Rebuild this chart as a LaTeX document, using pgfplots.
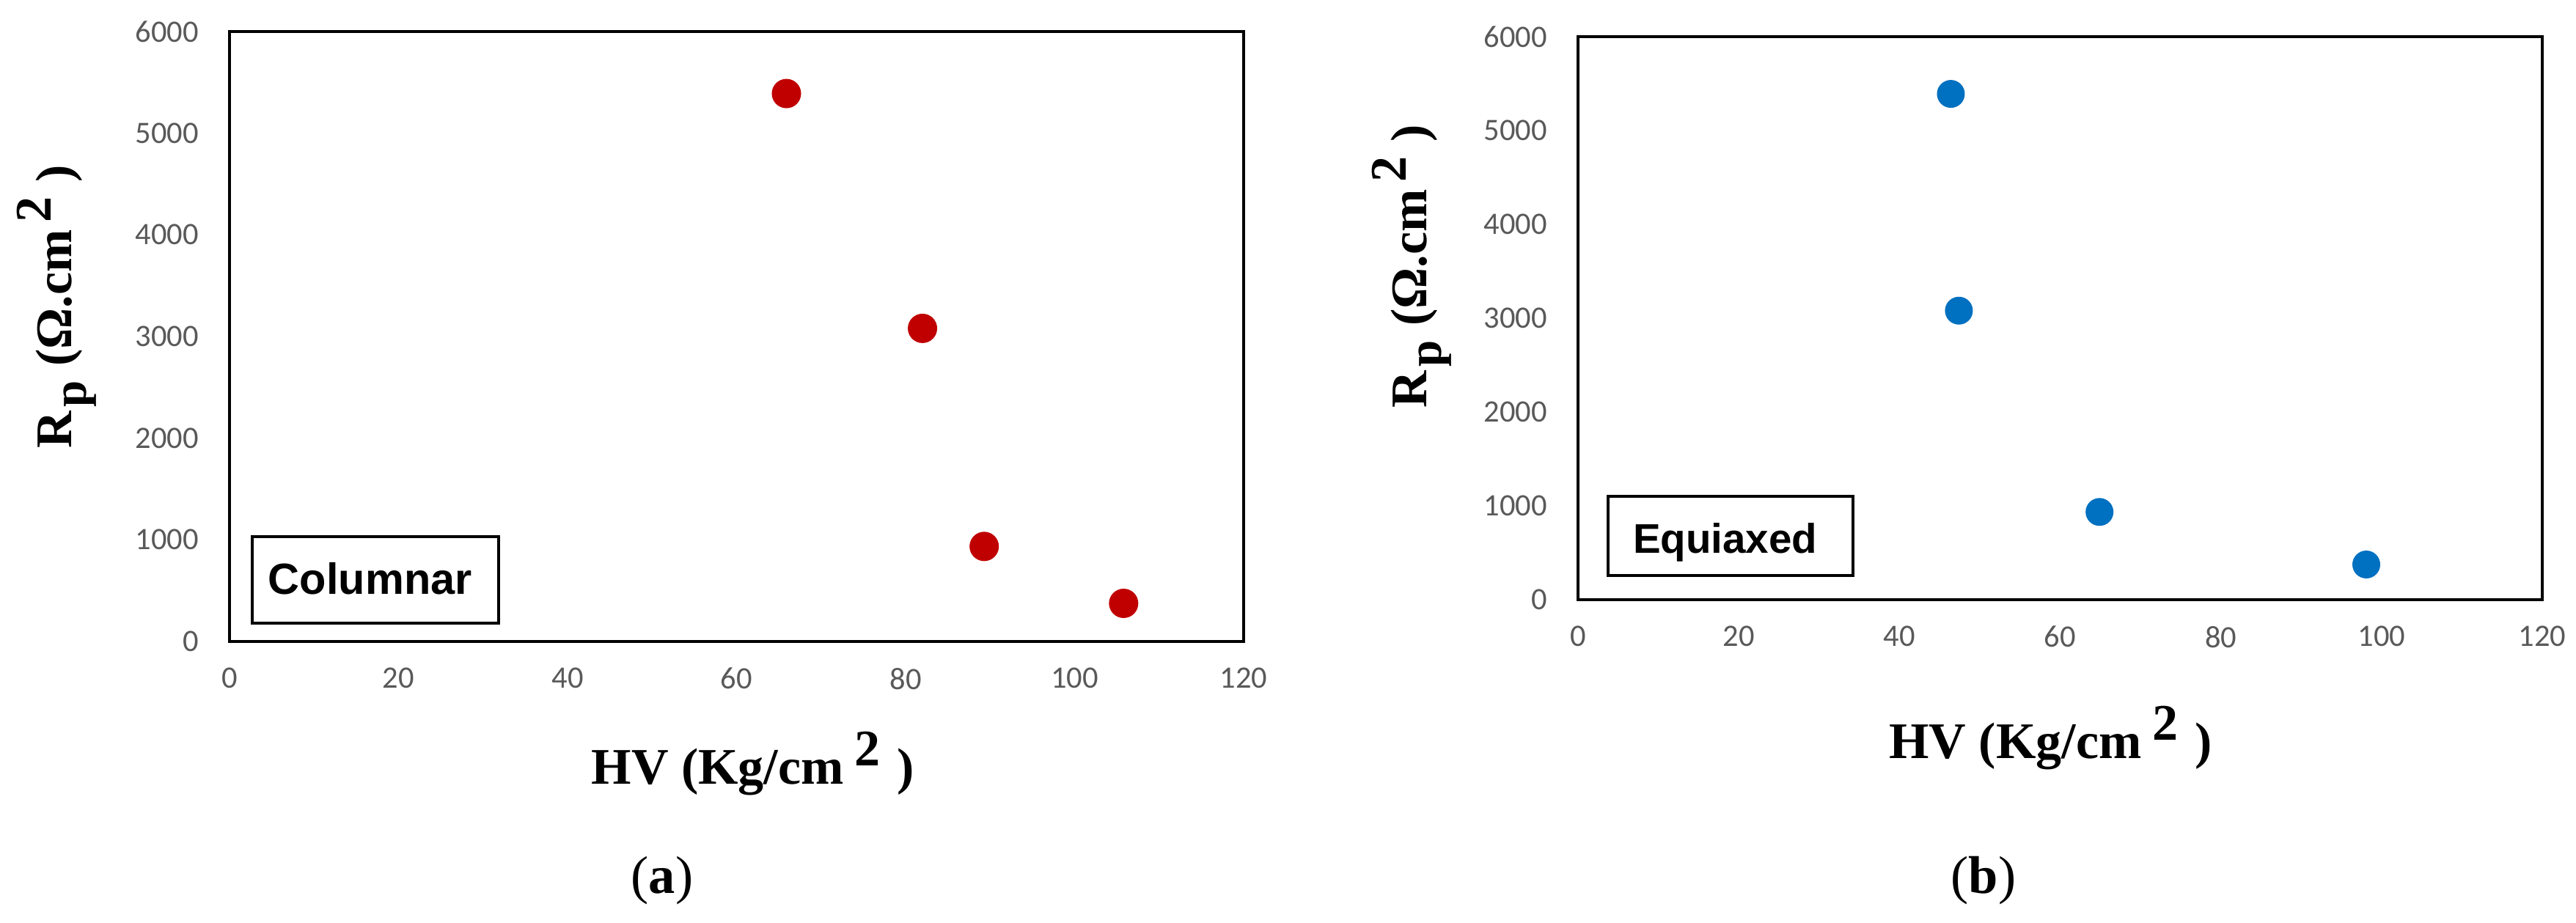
\documentclass[border=0pt]{standalone}
\usepackage{pgfplots}
\pgfplotsset{compat=1.18}
\usepackage{fontspec}
\setmainfont{Liberation Serif}
\newfontfamily\carlito{Carlito}
\newfontfamily\arialf{Liberation Sans}
\definecolor{exred}{RGB}{192,0,0}
\definecolor{exblue}{RGB}{0,112,192}
\definecolor{tickgray}{RGB}{89,89,89}
\pgfplotsset{
  myaxis/.style={
    scale only axis, anchor=south west,
    xmin=0, xmax=120, ymin=0, ymax=6000,
    xtick={0,20,...,120}, ytick={0,1000,...,6000},
    major tick length=0pt,
    axis line style={line width=0.8pt},
    /pgf/number format/1000 sep={},
    /pgf/number format/assume math mode=true,
    tick label style={font=\carlito\fontsize{8.5}{10}\selectfont, text=tickgray, inner sep=0pt},
    yticklabel style={anchor=east, xshift=-8.2pt},
    xticklabel style={anchor=north, yshift=-7pt},
    xlabel={\fontsize{14}{16}\selectfont\textbf{HV (Kg/cm\hspace{3pt}\raisebox{5pt}{2}\hspace{4.5pt})}},
    ylabel={\fontsize{14}{16}\selectfont\textbf{R\hspace{1pt}\raisebox{-4pt}{\fontsize{13}{14}\selectfont p}\hspace{4pt}(Ω.cm\hspace{2pt}\raisebox{5.7pt}{2}\hspace{4pt})}},
  }
}
\begin{document}
\begin{tikzpicture}
\useasboundingbox (0,0) rectangle (702.6pt,251.8pt);
% (a) Columnar
\begin{axis}[myaxis,
  at={(62.6pt,76.8pt)}, width=276.6pt, height=166.4pt,
  xlabel style={at={(axis description cs:0.516,-0.234)}, anchor=base},
  ylabel style={at={(axis description cs:-0.1555,0.549)}, anchor=base, rotate=0},
]
\addplot[only marks, mark=*, mark size=3.8pt, mark options={draw=exred, fill=exred}]
  coordinates {(65.9,5390) (82.0,3080) (89.3,935) (105.8,375)};
\end{axis}
% (b) Equiaxed
\begin{axis}[myaxis,
  at={(430.4pt,88.2pt)}, width=263pt, height=153.6pt,
  xlabel style={at={(axis description cs:0.490,-0.282)}, anchor=base},
  ylabel style={at={(axis description cs:-0.157,0.592)}, anchor=base, rotate=0},
]
\addplot[only marks, mark=*, mark size=3.6pt, mark options={draw=exblue, fill=exblue}]
  coordinates {(46.4,5390) (47.4,3080) (64.9,935) (98.1,375)};
\end{axis}
% legend-like boxes
\draw[line width=0.8pt, fill=white] (68.8pt,81.8pt) rectangle (136pt,105.4pt);
\node[anchor=base west, inner sep=0pt] at (73pt,89.7pt) {\arialf\bfseries\fontsize{11.9}{14}\selectfont Columnar};
\draw[line width=0.8pt, fill=white] (438.6pt,94.8pt) rectangle (505.4pt,116.4pt);
\node[anchor=base west, inner sep=0pt] at (445.2pt,100.8pt) {\arialf\bfseries\fontsize{11.3}{14}\selectfont Equiaxed};
% captions
\node[anchor=base, inner sep=0pt] at (180.6pt,8pt) {\fontsize{14.5}{17}\selectfont (\textbf{a})};
\node[anchor=base, inner sep=0pt] at (541pt,8pt) {\fontsize{14.5}{17}\selectfont (\textbf{b})};
\end{tikzpicture}
\end{document}
